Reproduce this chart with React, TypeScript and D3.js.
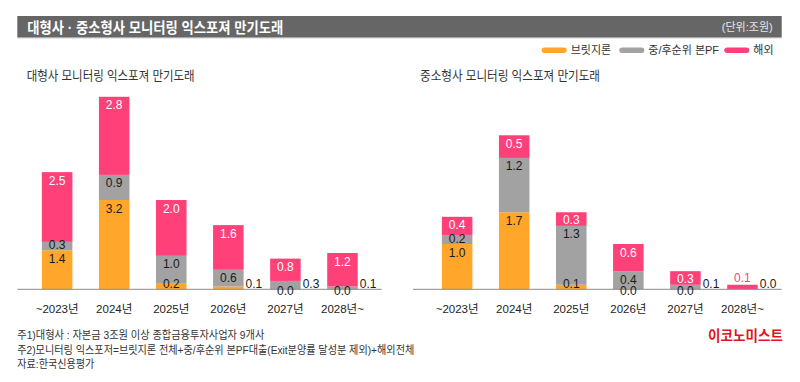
import React from "react";
import * as d3 from "d3";

const categories = ["~2023년", "2024년", "2025년", "2026년", "2027년", "2028년~"];
const seriesNames = ["브릿지론", "중/후순위 본PF", "해외"];

// 대형사
const bigBridge = [1.4, 3.2, 0.2, 0.1, 0.0, 0.0];
const bigSub = [0.3, 0.9, 1.0, 0.6, 0.3, 0.1];
const bigOverseas = [2.5, 2.8, 2.0, 1.6, 0.8, 1.2];

// 중소형사
const smallBridge = [1.0, 1.7, 0.1, 0.0, 0.0, 0.0];
const smallSub = [0.2, 1.2, 1.3, 0.4, 0.1, 0.0];
const smallOverseas = [0.4, 0.5, 0.3, 0.6, 0.3, 0.1];

// label placement: c=inside, r=right of bar, b=at base, a=above, n=none
const bigLabelPlace = [
  ["c", "c", "c"], ["c", "c", "c"], ["c", "c", "c"],
  ["r", "c", "c"], ["b", "r", "c"], ["b", "r", "c"],
];
const smallLabelPlace = [
  ["c", "c", "c"], ["c", "c", "c"], ["c", "c", "c"],
  ["b", "c", "c"], ["b", "r", "c"], ["n", "r", "a"],
];

const footnotes = [
  "주1)대형사 : 자본금 3조원 이상 종합금융투자사업자 9개사",
  "주2)모니터링 익스포저=브릿지론 전체+중/후순위 본PF대출(Exit분양률 달성분 제외)+해외전체",
  "자료:한국신용평가",
];

const COLORS = ["#FFA62B", "#A2A2A2", "#FF4079"];
const FONT = "'Liberation Sans', 'Noto Sans CJK KR', sans-serif";
const BASE_Y = 289.3;

type PanelProps = {
  x0: number;
  title: string;
  titleLen: number;
  series: number[][];
  places: string[][];
  unitPx: number;
  axisStart: number;
};

function Panel({ x0, title, titleLen, series, places, unitPx, axisStart }: PanelProps) {
  const x = d3
    .scaleBand<string>()
    .domain(categories)
    .range([x0 + 28.6, x0 + 371.0])
    .paddingInner(0.465)
    .paddingOuter(0.2325);
  const y = d3.scaleLinear().domain([0, 1]).range([BASE_Y, BASE_Y - unitPx]);
  const bw = x.bandwidth();

  const marks: React.ReactNode[] = [];
  const labels: React.ReactNode[] = [];
  categories.forEach((c, i) => {
    let acc = 0;
    const bx = x(c)!;
    series.forEach((s, k) => {
      const v = s[i];
      const yb = y(acc);
      const yt = y(acc + v);
      acc += v;
      if (v > 0) {
        marks.push(
          <rect key={`r${i}-${k}`} x={bx} y={yt} width={bw} height={yb - yt} fill={COLORS[k]} />
        );
      }
      const p = places[i][k];
      const txt = v.toFixed(1);
      let lx = bx + bw / 2;
      let ly = 0;
      let anchor = "middle";
      let fill = k === 2 ? "#ffffff" : "#1a1a1a";
      if (p === "n") return;
      if (p === "c") {
        ly = Math.min(yt + 8.5, yb - 5.5);
      } else if (p === "r") {
        lx = bx + bw + 2;
        anchor = "start";
        ly = BASE_Y - 5;
        fill = "#1a1a1a";
      } else if (p === "b") {
        ly = BASE_Y + 1.5;
        fill = "#1a1a1a";
      } else if (p === "a") {
        ly = yt - 7;
        fill = COLORS[2];
      }
      labels.push(
        <text
          key={`t${i}-${k}`}
          x={lx}
          y={ly}
          textAnchor={anchor}
          dominantBaseline="central"
          fontSize={12}
          fill={fill}
        >
          {txt}
        </text>
      );
    });
  });

  return (
    <g fontFamily={FONT}>
      <text
        x={x0 + (x0 === 0 ? 26.7 : 20)}
        y={75}
        dominantBaseline="central"
        fontSize={13}
        fill="#333"
        textLength={titleLen}
        lengthAdjust="spacingAndGlyphs"
      >
        {title}
      </text>
      {marks}
      <line x1={axisStart} x2={x0 + 381.7} y1={BASE_Y} y2={BASE_Y} stroke="#8a8a8a" strokeWidth={1} />
      {labels}
      {categories.map((c) => (
        <text
          key={c}
          x={x(c)! + bw / 2}
          y={309}
          textAnchor="middle"
          dominantBaseline="central"
          fontSize={11.5}
          fill="#222"
        >
          {c}
        </text>
      ))}
    </g>
  );
}

export default function App() {
  const legendX = [541.7, 619.3, 724.3];
  return (
    <svg width={800} height={382} style={{ position: "absolute", left: 0, top: 0, background: "#fff" }}>
      <rect x={0} y={0} width={800} height={382} fill="#fff" />
      <rect x={17.3} y={16} width={764.4} height={21.7} fill="#666666" />
      <line x1={17.3} x2={781.7} y1={38.2} y2={38.2} stroke="#dddddd" strokeWidth={1} />
      <text
        x={27.3}
        y={27}
        dominantBaseline="central"
        fontFamily={FONT}
        fontSize={15}
        fontWeight={700}
        fill="#fff"
        textLength={256}
        lengthAdjust="spacingAndGlyphs"
      >
        대형사 · 중소형사 모니터링 익스포져 만기도래
      </text>
      <text
        x={772.7}
        y={27}
        textAnchor="end"
        dominantBaseline="central"
        fontFamily={FONT}
        fontSize={11}
        fill="#e6e6e6"
      >
        (단위:조원)
      </text>
      {seriesNames.map((n, i) => (
        <g key={n} fontFamily={FONT}>
          <rect x={legendX[i]} y={47.5} width={25} height={5.5} rx={2.75} fill={COLORS[i]} />
          <text x={legendX[i] + 29} y={50.3} dominantBaseline="central" fontSize={11} fill="#333">
            {n}
          </text>
        </g>
      ))}
      <Panel
        x0={0}
        title="대형사 모니터링 익스포져 만기도래"
        titleLen={168}
        series={[bigBridge, bigSub, bigOverseas]}
        places={bigLabelPlace}
        unitPx={27.9}
        axisStart={17.3}
      />
      <Panel
        x0={400}
        title="중소형사 모니터링 익스포져 만기도래"
        titleLen={180}
        series={[smallBridge, smallSub, smallOverseas]}
        places={smallLabelPlace}
        unitPx={45.3}
        axisStart={413}
      />
      <g fontFamily={FONT} fontSize={11} fill="#333">
        {footnotes.map((f, i) => (
          <text key={i} x={17.3} y={335 + i * 14.5} dominantBaseline="central"
            textLength={[247, 397, 77][i]} lengthAdjust="spacingAndGlyphs">
            {f}
          </text>
        ))}
      </g>
      <text
        x={708}
        y={335}
        dominantBaseline="central"
        fontFamily={FONT}
        fontSize={15}
        fontWeight={700}
        fill="#E0141E"
        textLength={75}
        lengthAdjust="spacingAndGlyphs"
      >
        이코노미스트
      </text>
    </svg>
  );
}
